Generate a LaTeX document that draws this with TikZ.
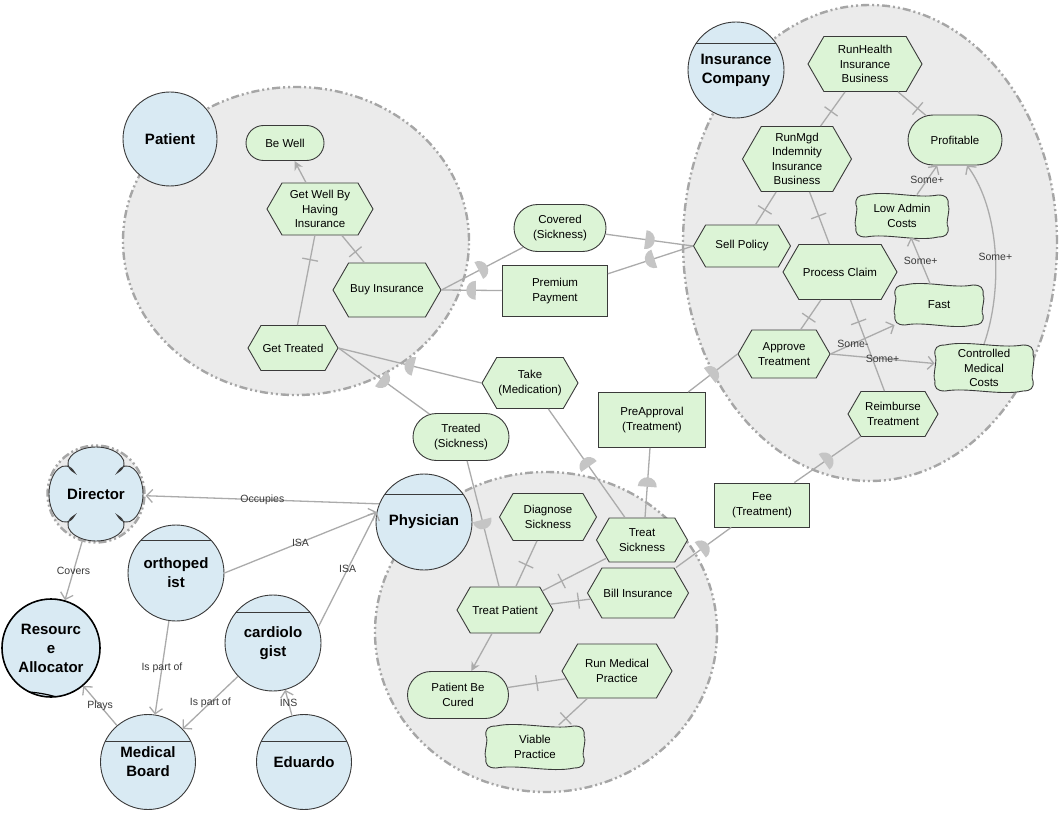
\documentclass[tikz,border=0pt]{standalone}
\usepackage{fontspec}
\setmainfont{Liberation Sans}
\usetikzlibrary{shapes.misc,shapes.symbols,arrows.meta,decorations.markings}

\definecolor{goalgreen}{HTML}{DCF4D6}
\definecolor{actorblue}{HTML}{D9EAF3}
\definecolor{bndgray}{HTML}{EBEBEB}
\definecolor{bndline}{HTML}{A6A6A6}
\definecolor{linkgray}{HTML}{ABABAB}
\definecolor{edgegray}{HTML}{3A3A3A}

\tikzstyle{elem} = [draw=edgegray, fill=goalgreen, line width=0.9pt, align=center, inner sep=1pt, font=\fontsize{11.5}{14.5}\selectfont]
\tikzstyle{task} = [elem, shape=signal, signal to=east and west, signal pointer angle=120]
\tikzstyle{goal} = [elem, rounded rectangle]
\tikzstyle{softgoal} = [elem, rectangle, draw=none, fill=none]
\tikzstyle{resource} = [elem, rectangle]
\tikzstyle{actor} = [circle, draw=edgegray, fill=actorblue, line width=0.9pt, inner sep=0pt, align=center, font=\fontsize{15}{19}\selectfont\bfseries]
\tikzstyle{boundary} = [draw=bndline, fill=bndgray, line width=2.4pt, dash pattern=on 8pt off 3pt on 2pt off 3pt on 2pt off 3pt]
\tikzstyle{link} = [draw=linkgray, line width=1.3pt]
\tikzstyle{meansend} = [link, -{Stealth[length=9pt, width=9pt]}]
\tikzstyle{contrib} = [link, -{Straight Barb[length=6pt, width=13pt]}]
\tikzstyle{lbl} = [font=\fontsize{10.5}{12}\selectfont, text=edgegray, inner sep=1pt]

\tikzset{
  agent/.style={actor, path picture={\draw[edgegray, line width=0.9pt] ([yshift=-#1]path picture bounding box.north west) -- ([yshift=-#1]path picture bounding box.north east);}},
  dec/.style={link, postaction={decorate, decoration={markings, mark=at position #1 with {\draw[linkgray, line width=1.3pt] (0pt,-8pt) -- (0pt,8pt);}}}},
  dep/.style={link, postaction={decorate, decoration={markings, mark=at position 0.5 with {\fill[linkgray!115!black] (-4pt,-9.5pt) -- (-4pt,9.5pt) arc[start angle=90, end angle=-90, radius=9.5pt] -- cycle;}}}}
}

% wavy outline of a softgoal: centre x, centre y, half width, half height
\newcommand{\sgoutline}[4]{%
  \draw[edgegray, fill=goalgreen, line width=0.9pt, shift={(#1,#2)}]
    (-#3+10,-#4) .. controls (-#3/3,-#4-5) and (#3/3,-#4+4) .. (#3-10,-#4)
    .. controls (#3-2,-#4) and (#3+1,-#4+3) .. (#3,-#4+10)
    .. controls (#3+3,-#4/3) and (#3-3,#4/3) .. (#3,#4-10)
    .. controls (#3+1,#4-3) and (#3-2,#4) .. (#3-10,#4)
    .. controls (#3/3,#4+5) and (-#3/3,#4-4) .. (-#3+10,#4)
    .. controls (-#3+2,#4) and (-#3-1,#4-3) .. (-#3,#4-10)
    .. controls (-#3-3,#4/3) and (-#3+3,-#4/3) .. (-#3,-#4+10)
    .. controls (-#3-1,-#4+3) and (-#3+2,-#4) .. cycle;}

\begin{document}
\begin{tikzpicture}[x=1pt, y=-1pt]

        \path[fill=white, use as bounding box] (0,0) rectangle (1062,821);

        %% boundaries
        \draw[boundary] (296,241) ellipse [x radius=173pt, y radius=154pt];
        \draw[boundary] (870,243) ellipse [x radius=187pt, y radius=238pt];
        \draw[boundary] (546,632) ellipse [x radius=171pt, y radius=160pt];

        %% actors
        \node (patient) [actor, minimum size=94pt] at (170,139) {Patient};
        \node (inscomp) [agent=21pt, minimum size=96pt] at (736,70) {Insurance\\Company};
        \node (physician) [agent=20pt, minimum size=96pt] at (424,522) {Physician};
        \node (director) [circle, boundary, minimum size=97pt, inner sep=0pt] at (96,494) {};
        \draw[edgegray, fill=actorblue, line width=0.9pt, shift={(director.center)}]
            (-21,-21) .. controls (-38,-31) and (-22,-47) .. (0,-47) .. controls (22,-47) and (38,-31) .. (21,-21)
            .. controls (31,-38) and (47,-22) .. (47,0) .. controls (47,22) and (31,38) .. (21,21)
            .. controls (38,31) and (22,47) .. (0,47) .. controls (-22,47) and (-38,31) .. (-21,21)
            .. controls (-31,38) and (-47,22) .. (-47,0) .. controls (-47,-22) and (-31,-38) .. cycle;
        \node (directorname) [font=\fontsize{15}{19}\selectfont\bfseries] at (director.center) {Director};
        \node (ralloc) [actor, draw=black, line width=1.6pt, minimum size=98pt,
            path picture={\draw[black, line width=1.2pt, shift={(path picture bounding box.center)}] (-52,30) .. controls (-20,16) and (20,16) .. (52,30);}] at (51,648) {Resourc\\e\\Allocator};
        \node (ortho) [agent=15pt, minimum size=96pt] at (176,573) {orthoped\\ist};
        \node (cardio) [agent=17pt, minimum size=96pt] at (273,643) {cardiolo\\gist};
        \node (mboard) [agent=27pt, minimum size=95pt] at (148,762) {Medical\\Board};
        \node (eduardo) [agent=27pt, minimum size=95pt] at (304,762) {Eduardo};

        %% patient elements
        \node (bewell) [goal, minimum width=80pt, minimum height=35pt] at (285,143) {Be Well};
        \node (gwbhi) [task, minimum width=106pt, minimum height=52pt] at (320,209) {Get Well By\\Having\\Insurance};
        \node (buyins) [task, minimum width=108pt, minimum height=54pt] at (387,290) {Buy Insurance};
        \node (gettr) [task, minimum width=90pt, minimum height=45pt] at (293,348) {Get Treated};

        %% dependums
        \node (covered) [goal, minimum width=94pt, minimum height=47pt] at (560,228) {Covered\\(Sickness)};
        \node (premium) [resource, minimum width=105pt, minimum height=51pt] at (555,291) {Premium\\Payment};
        \node (take) [task, minimum width=96pt, minimum height=51pt] at (530,383) {Take\\(Medication)};
        \node (treated) [goal, minimum width=98pt, minimum height=47pt] at (461,437) {Treated\\(Sickness)};
        \node (preapp) [resource, minimum width=107pt, minimum height=55pt] at (652,420) {PreApproval\\(Treatment)};
        \node (fee) [resource, minimum width=95pt, minimum height=44pt] at (762,505) {Fee\\(Treatment)};

        %% insurance company elements
        \node (runhealth) [task, minimum width=114pt, minimum height=55pt] at (865,64) {RunHealth\\Insurance\\Business};
        \node (runmgd) [task, minimum width=109pt, minimum height=65pt] at (797,159) {RunMgd\\Indemnity\\Insurance\\Business};
        \node (profitable) [goal, minimum width=96pt, minimum height=50pt] at (955,140) {Profitable};
        \sgoutline{902}{216}{46}{21}
        \node (lowadmin) [softgoal, minimum width=93pt, minimum height=42pt] at (902,216) {Low Admin\\Costs};
        \node (sellpol) [task, minimum width=97pt, minimum height=42pt] at (742,246) {Sell Policy};
        \node (proclaim) [task, minimum width=114pt, minimum height=55pt] at (840,272) {Process Claim};
        \sgoutline{939}{305}{44}{20}
        \node (fast) [softgoal, minimum width=88pt, minimum height=40pt] at (939,305) {Fast};
        \node (approve) [task, minimum width=92pt, minimum height=48pt] at (784,354) {Approve\\Treatment};
        \sgoutline{984}{368}{49}{23}
        \node (cmc) [softgoal, minimum width=98pt, minimum height=47pt] at (984,368) {Controlled\\Medical\\Costs};
        \node (reimb) [task, minimum width=90pt, minimum height=45pt] at (893,414) {Reimburse\\Treatment};

        %% physician elements
        \node (diagnose) [task, minimum width=97pt, minimum height=47pt] at (548,517) {Diagnose\\Sickness};
        \node (treatsick) [task, minimum width=91pt, minimum height=44pt] at (642,540) {Treat\\Sickness};
        \node (treatpat) [task, minimum width=96pt, minimum height=46pt] at (505,610) {Treat Patient};
        \node (billins) [task, minimum width=101pt, minimum height=50pt] at (638,593) {Bill Insurance};
        \node (runmed) [task, minimum width=110pt, minimum height=54pt] at (617,671) {Run Medical\\Practice};
        \node (cured) [goal, minimum width=103pt, minimum height=47pt] at (458,695) {Patient Be\\Cured};
        \sgoutline{535}{747}{49}{21}
        \node (viable) [softgoal, minimum width=99pt, minimum height=43pt] at (535,747) {Viable\\Practice};

        %% links inside patient
        \draw[meansend] (gwbhi) -- (bewell);
        \draw[dec=0.73] (gettr) -- (gwbhi);
        \draw[dec=0.4] (buyins) -- (gwbhi);

        %% links inside insurance company
        \draw[dec=0.43] (runmgd) -- (runhealth);
        \draw[dec=0.3] (profitable) -- (runhealth);
        \draw[dec=0.45] (sellpol) -- (runmgd);
        \draw[dec=0.54] (proclaim) -- (runmgd);
        \draw[dec=0.4] (approve) -- (proclaim);
        \draw[dec=0.76] (reimb) -- (proclaim);
        \draw[contrib] (fast) -- (lowadmin) node[lbl, pos=0.5] {Some+};
        \draw[contrib] (lowadmin) -- (profitable) node[lbl, pos=0.5] {Some+};
        \draw[contrib] (cmc.north) .. controls (1003,290) and (1000,210) .. ([xshift=12pt]profitable.south) node[lbl, pos=0.47] {Some+};
        \draw[contrib] (approve.east) -- (fast) node[lbl, pos=0.35] {Some-};
        \draw[contrib] (approve.east) -- (cmc) node[lbl, pos=0.5] {Some+};

        %% links inside physician
        \draw[dec=0.52] (diagnose) -- (treatpat);
        \draw[dec=0.7] (treatsick) -- (treatpat);
        \draw[dec=0.3] (billins) -- (treatpat);
        \draw[meansend] (treatpat) -- (cured);
        \draw[dec=0.5] (cured) -- (runmed);
        \draw[dec=0.25] (viable) -- (runmed);

        %% dependencies
        \draw[dep] (buyins.east) -- (covered);
        \draw[dep] (covered) -- (sellpol.west);
        \draw[dep] (sellpol.west) -- (premium);
        \draw[dep] (premium) -- (buyins.east);
        \draw[dep] (take.west) -- (gettr.east);
        \draw[dep] ([xshift=-17pt]treatsick.north) -- (take);
        \draw[dep] (gettr.east) -- (treated);
        \draw[dep] (treated) -- (treatpat);
        \draw[dep] ([xshift=3pt]treatsick.north) -- (preapp);
        \draw[dep] (preapp) -- (approve.west);
        \draw[dep] ([xshift=38pt]billins.north) -- (fee);
        \draw[dep] (fee) -- (reimb);

        %% actor associations
        \draw[contrib] (physician.158) -- (director) node[lbl, pos=0.5] {Occupies};
        \draw[contrib] (ortho.east) -- (physician.168) node[lbl, pos=0.5] {ISA};
        \draw[contrib] (cardio.20) -- (physician.168) node[lbl, pos=0.5] {ISA};
        \draw[contrib] (director) -- (ralloc) node[lbl, pos=0.5] {Covers};
        \draw[contrib] (ortho) -- (mboard) node[lbl, pos=0.5] {Is part of};
        \draw[contrib] (cardio) -- (mboard) node[lbl, pos=0.5] {Is part of};
        \draw[contrib] (mboard) -- (ralloc) node[lbl, pos=0.5] {Plays};
        \draw[contrib] (eduardo) -- (cardio) node[lbl, pos=0.5] {INS};

    \end{tikzpicture}
\end{document}
